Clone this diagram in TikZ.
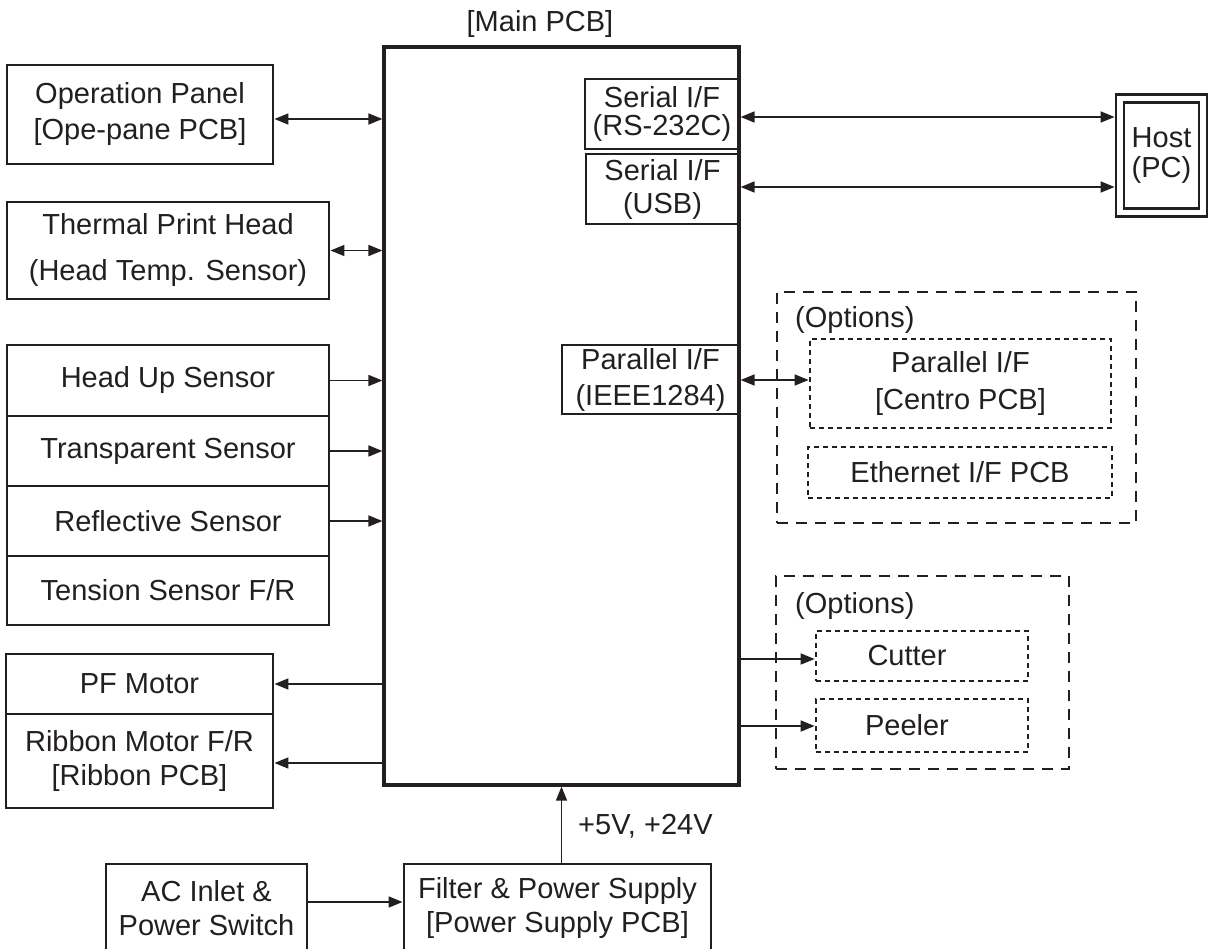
\documentclass[tikz,border=0pt]{standalone}
\usepackage{fontspec}
\setmainfont{Liberation Sans}
\usetikzlibrary{arrows.meta,calc}
\definecolor{ink}{HTML}{231F20}

\begin{document}
\begin{tikzpicture}[x=1pt,y=-1pt,
  txt/.style={text=ink, inner sep=0pt, align=center, font=\fontsize{29}{34}\selectfont},
  box/.style={txt, draw=ink, line width=2.9pt},
  mainbox/.style={draw=ink, line width=3.2pt, inner sep=0pt},
  ifbox/.style={txt, draw=ink, line width=1.3pt},
  optgroup/.style={draw=ink, line width=2.8pt, dash pattern=on 11pt off 8pt},
  optcard/.style={txt, draw=ink, line width=2.7pt, dash pattern=on 5pt off 4pt},
  tip/.tip={Triangle[length=14pt,width=11pt]},
  link/.style={draw=ink, line width=1.6pt, -tip},
  duplex/.style={draw=ink, line width=1.6pt, tip-tip}]

\useasboundingbox (0,0) rectangle (1210,949);

% main controller board
\node[mainbox, minimum width=355pt, minimum height=738pt] (main) at (561.5,416) {};
\node[txt] (mainlbl) at (540,24) {[Main PCB]};

% interfaces on the main board
\node[ifbox, minimum width=154pt, minimum height=70pt] (rs) at (662,114) {Serial I/F\\[-6pt](RS-232C)};
\node[ifbox, minimum width=153pt, minimum height=70pt] (usb) at (662.5,189) {Serial I/F\\[-1pt](USB)};
\node[ifbox, minimum width=177pt, minimum height=69pt] (par) at (650.5,379.5) {Parallel I/F\\[2pt](IEEE1284)};

% left-hand units
\node[box, minimum width=266pt, minimum height=99pt] (op) at (140,114.5) {Operation Panel\\[2pt]{}[Ope-pane PCB]};
\node[box, minimum width=322pt, minimum height=97pt] (tph) at (168,250.5) {Thermal Print Head\\[12pt](Head Temp. Sensor)};
\node[box, minimum width=322pt, minimum height=71pt] (headup) at (168,380.5) {Head Up Sensor};
\node[box, minimum width=322pt, minimum height=70pt] (transp) at (168,451) {Transparent Sensor};
\node[box, minimum width=322pt, minimum height=70pt] (refl) at (168,521) {Reflective Sensor};
\node[box, minimum width=322pt, minimum height=69pt] (tension) at (168,590.5) {Tension Sensor F/R};
\node[box, minimum width=267pt, minimum height=60pt] (pf) at (139.5,684) {PF Motor};
\node[box, minimum width=267pt, minimum height=94pt] (ribbon) at (139.5,761) {Ribbon Motor F/R\\{}[Ribbon PCB]};

% power path
\node[box, minimum width=201pt, minimum height=88pt] (ac) at (206.5,908) {AC Inlet \&\\Power Switch};
\node[box, minimum width=307pt, minimum height=88pt] (psu) at (557.5,908) {Filter \& Power Supply\\{}[Power Supply PCB]};

% host computer
\node[txt, draw=ink, line width=2.8pt, double, double distance=5.2pt, outer sep=5.4pt,
      minimum width=83pt, minimum height=113.5pt] (host) at (1161.5,155.5) {Host\\[-4pt](PC)};

% optional interface boards
\node[optgroup, minimum width=359pt, minimum height=231pt] (optif) at (956.5,407.5) {};
\node[txt, anchor=west] (optiflbl) at (795,320) {(Options)};
\node[optcard, minimum width=301pt, minimum height=89pt] (centro) at (960.5,383.5) {Parallel I/F\\[3pt]{}[Centro PCB]};
\node[optcard, minimum width=304pt, minimum height=51pt] (eth) at (960,472.5) {Ethernet I/F PCB};

% optional media units
\node[optgroup, minimum width=293pt, minimum height=193pt] (optmed) at (922.5,672.5) {};
\node[txt, anchor=west] (optmedlbl) at (795,606) {(Options)};
\node[optcard, minimum width=212pt, minimum height=50pt, label={[txt,xshift=-15pt]center:Cutter}] (cutter) at (922,656) {};
\node[optcard, minimum width=212pt, minimum height=53pt, label={[txt,xshift=-15pt]center:Peeler}] (peeler) at (922,725.5) {};

% connector rows
\coordinate (r-op) at (0,119);
\coordinate (r-rs) at (0,117);
\coordinate (r-usb) at (0,187);
\coordinate (r-par) at (0,380);
\coordinate (r-rib) at (0,763);
\coordinate (r-ac) at (0,902);
\coordinate (r-cut) at (0,659);
\coordinate (r-peel) at (0,726);

% connectors
\draw[duplex] (op.east |- r-op) -- (main.west |- r-op);
\draw[duplex] (tph.east) -- (tph.east -| main.west);
\draw[link] (headup.east) -- (headup.east -| main.west);
\draw[link] (transp.east) -- (transp.east -| main.west);
\draw[link] (refl.east) -- (refl.east -| main.west);
\draw[link] (main.west |- pf.east) -- (pf.east);
\draw[link] (main.west |- r-rib) -- (ribbon.east |- r-rib);
\draw[link] (ac.east |- r-ac) -- (psu.west |- r-ac);
\draw[link] (psu.north -| main.south) -- (main.south);
\node[txt, anchor=west] (pwrlbl) at (578,826) {+5V, +24V};
\draw[duplex] (main.east |- r-rs) -- (host.west |- r-rs);
\draw[duplex] (main.east |- r-usb) -- (host.west |- r-usb);
\draw[duplex] (main.east |- r-par) -- (centro.west |- r-par);
\draw[link] (main.east |- r-cut) -- (cutter.west |- r-cut);
\draw[link] (main.east |- r-peel) -- (peeler.west |- r-peel);
\end{tikzpicture}
\end{document}
